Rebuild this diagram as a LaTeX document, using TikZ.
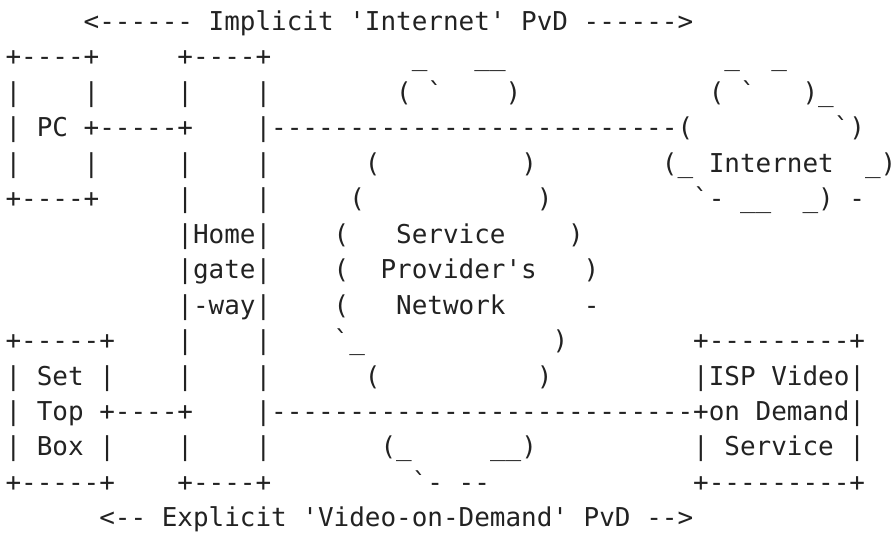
\documentclass[tikz,border=0pt]{standalone}
\usepackage{fontspec}
\setmonofont{DejaVu Sans Mono}
\definecolor{inkgray}{RGB}{34,34,34}
\tikzset{
  asciirow/.style={anchor=base west, inner sep=0pt, outer sep=0pt, text=inkgray,
    font=\ttfamily\fontsize{25.96}{30}\selectfont}
}
\newcommand{\rowy}[1]{-30.5-(#1-1)*35.45}
\begin{document}
\begin{tikzpicture}[x=1pt,y=1pt]
\useasboundingbox (0,0) rectangle (896,-533);
\node[asciirow] (r1)  at (5.5,{\rowy{1}})  {~~~~~<------~Implicit~'Internet'~PvD~------>};
\node[asciirow] (r2)  at (5.5,{\rowy{2}})  {+----+~~~~~+----+~~~~~~~~~\_~~~\_\_~~~~~~~~~~~~~~\_~~\_};
\node[asciirow] (r3)  at (5.5,{\rowy{3}})  {|~~~~|~~~~~|~~~~|~~~~~~~~(~`~~~~)~~~~~~~~~~~~(~`~~~)\_};
\node[asciirow] (r4)  at (5.5,{\rowy{4}})  {|~PC~+-----+~~~~|--------------------------(~~~~~~~~~`)};
\node[asciirow] (r5)  at (5.5,{\rowy{5}})  {|~~~~|~~~~~|~~~~|~~~~~~(~~~~~~~~~)~~~~~~~~(\_~Internet~~\_)};
\node[asciirow] (r6)  at (5.5,{\rowy{6}})  {+----+~~~~~|~~~~|~~~~~(~~~~~~~~~~~)~~~~~~~~~`-~\_\_~~\_)~-};
\node[asciirow] (r7)  at (5.5,{\rowy{7}})  {~~~~~~~~~~~|Home|~~~~(~~~Service~~~~)};
\node[asciirow] (r8)  at (5.5,{\rowy{8}})  {~~~~~~~~~~~|gate|~~~~(~~Provider's~~~)};
\node[asciirow] (r9)  at (5.5,{\rowy{9}})  {~~~~~~~~~~~|-way|~~~~(~~~Network~~~~~-};
\node[asciirow] (r10) at (5.5,{\rowy{10}}) {+-----+~~~~|~~~~|~~~~`\_~~~~~~~~~~~~)~~~~~~~~+---------+};
\node[asciirow] (r11) at (5.5,{\rowy{11}}) {|~Set~|~~~~|~~~~|~~~~~~(~~~~~~~~~~)~~~~~~~~~|ISP~Video|};
\node[asciirow] (r12) at (5.5,{\rowy{12}}) {|~Top~+----+~~~~|---------------------------+on~Demand|};
\node[asciirow] (r13) at (5.5,{\rowy{13}}) {|~Box~|~~~~|~~~~|~~~~~~~(\_~~~~~\_\_)~~~~~~~~~~|~Service~|};
\node[asciirow] (r14) at (5.5,{\rowy{14}}) {+-----+~~~~+----+~~~~~~~~~`-~--~~~~~~~~~~~~~+---------+};
\node[asciirow] (r15) at (5.5,{\rowy{15}}) {~~~~~~<--~Explicit~'Video-on-Demand'~PvD~-->};
\end{tikzpicture}
\end{document}
